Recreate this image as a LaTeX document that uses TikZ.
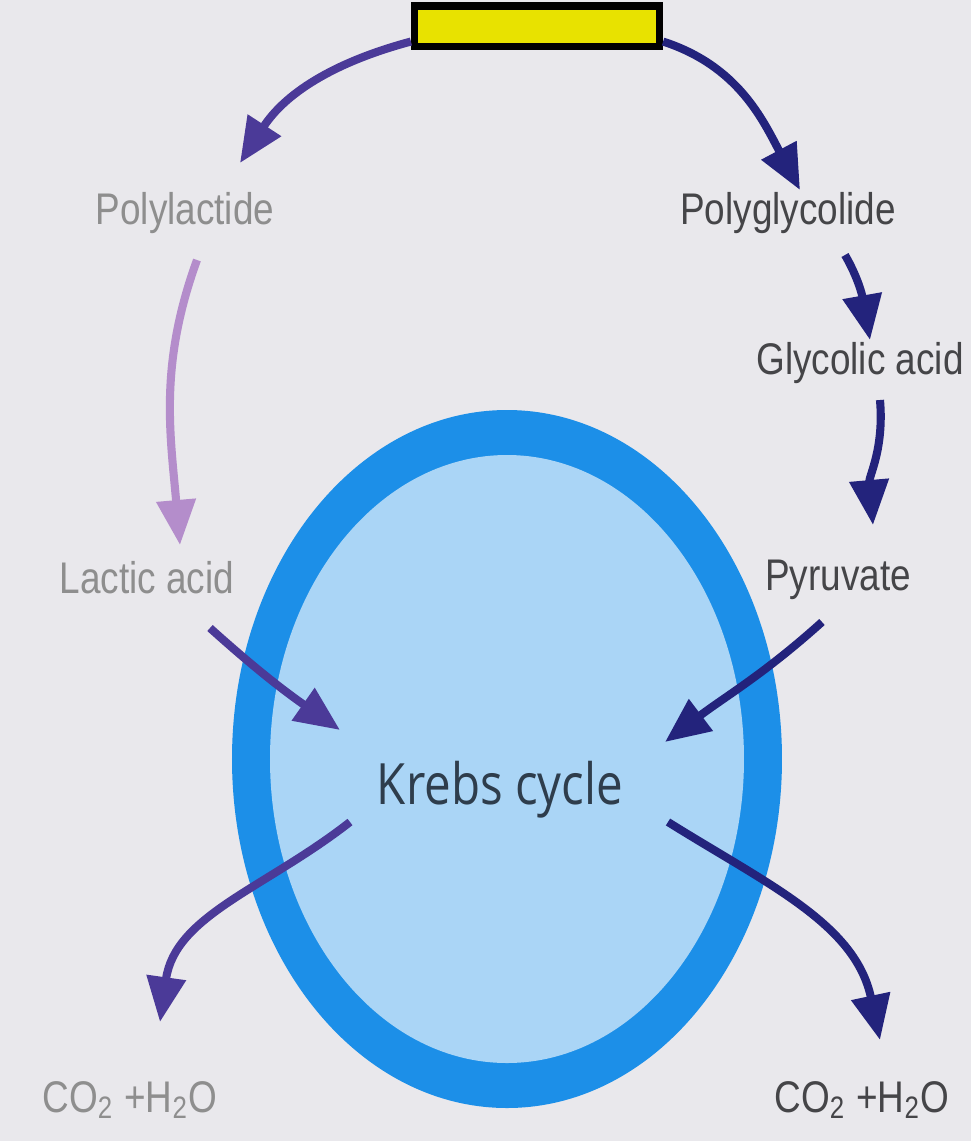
\documentclass[tikz,border=0pt]{standalone}
\usepackage{fontspec}
\setmainfont{Liberation Sans}
\newfontfamily\krebsfont{Open Sans}
\usetikzlibrary{arrows.meta}
\definecolor{paper}{HTML}{E9E8EC}
\definecolor{navy}{HTML}{23237C}
\definecolor{violet}{HTML}{4B3A98}
\definecolor{lilac}{HTML}{B48DCB}
\definecolor{ringblue}{HTML}{1C8FE8}
\definecolor{coreblue}{HTML}{AAD5F6}
\definecolor{boxyellow}{HTML}{E8E200}
\definecolor{labelpale}{HTML}{8E8E8E}
\definecolor{labeldark}{HTML}{454548}
\definecolor{krebstext}{HTML}{2E3D4C}
\begin{document}
\begin{tikzpicture}[x=0.01cm,y=-0.01cm,
  lbl/.style={font=\fontsize{10.5}{12}\selectfont,inner sep=0pt,yscale=1.2,transform shape},
  pale/.style={lbl,text=labelpale},
  dark/.style={lbl,text=labeldark},
  arr/.style={line width=2.3pt,-{Triangle[length=0.45cm,width=0.38cm]}}]
				\fill[paper] (0,0) rectangle (971,1141);
				\useasboundingbox (0,0) rectangle (971,1141);
				\fill[ringblue] (507,759) ellipse [x radius=275,y radius=349];
				\fill[coreblue] (507,759) ellipse [x radius=237,y radius=304];
				\node(src) at (537,26) [draw=black,line width=2pt,fill=boxyellow,minimum width=2.45cm,minimum height=0.4cm,inner sep=0pt] {};
				\node(pla) at (185,213) [pale] {Polylactide};
				\node(pga) at (788,213) [dark] {Polyglycolide};
				\node(gla) at (860,363) [dark] {Glycolic acid};
				\node(lac) at (147,578) [pale] {Lactic acid};
				\node(pyr) at (838,580) [dark] {Pyruvate};
				\node(krebs) at (500,790) [inner sep=0pt,yscale=1.2,transform shape,text=krebstext,font=\krebsfont\fontsize{13.5}{15}\selectfont] {Krebs cycle};
				\node(co2l) at (130,1100) [pale] {CO\textsubscript{2} +H\textsubscript{2}O};
				\node(co2r) at (862,1100) [dark] {CO\textsubscript{2} +H\textsubscript{2}O};
				\coordinate(inL) at (340,730);
				\coordinate(inR) at (665,742);
				\coordinate(outL) at (350,822);
				\coordinate(outR) at (668,822);
				\draw[arr,violet] ([shift={(0,-8)}]src.south west) to[out=195,in=57] ([shift={(55,-50)}]pla.center);
				\draw[arr,navy] ([shift={(0,-8)}]src.south east) to[out=-18,in=118] ([shift={(12,-23)}]pga.center);
				\draw[arr,navy] ([shift={(57,42)}]pga.center) to[out=-60,in=100] ([shift={(10,-23)}]gla.center);
				\draw[arr,navy] ([shift={(20,37)}]gla.center) to[out=-85,in=95] ([shift={(35,-55)}]pyr.center);
				\draw[arr,lilac] ([shift={(12,47)}]pla.center) to[out=250,in=95] ([shift={(33,-33)}]lac.center);
				\draw[arr,violet] ([shift={(63,50)}]lac.center) to[out=-42,in=145] (inL);
				\draw[arr,navy] ([shift={(-16,42)}]pyr.center) to[out=-138,in=37] (inR);
				\draw[arr,violet] (outL) to[out=-142,in=82] ([shift={(30,-78)}]co2l.center);
				\draw[arr,navy] (outR) to[out=-32,in=102] ([shift={(18,-60)}]co2r.center);
			\end{tikzpicture}
\end{document}
